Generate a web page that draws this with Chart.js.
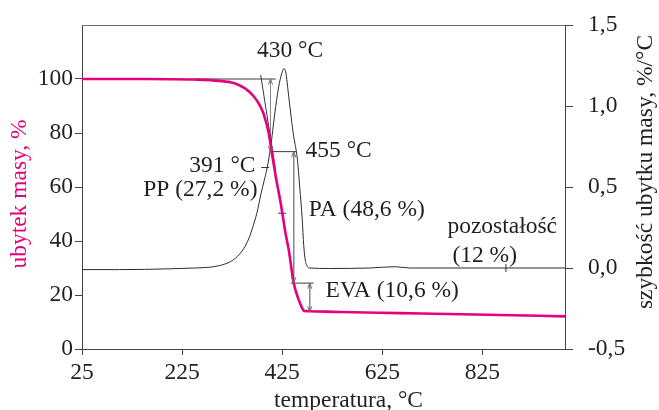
<!DOCTYPE html>
<html>
<head>
<meta charset="utf-8">
<script src="https://cdn.jsdelivr.net/npm/chart.js@4.4.1/dist/chart.umd.min.js"></script>
<style>
  html, body { margin: 0; padding: 0; background: #fff; }
</style>
</head>
<body>
<canvas id="tgaChart" width="659" height="410"></canvas>
<script>
// axis ticks
const tempTicks = [25, 225, 425, 625, 825];
const massTicks = [0, 20, 40, 60, 80, 100];
const rateTicks = [-0.5, 0, 0.5, 1.0, 1.5];

// TG curve: mass loss, %
const massTemp   = [25, 150, 250, 300, 328, 350, 368, 380, 388, 398, 404, 412, 422, 432, 438, 448, 458, 464, 468, 480, 540, 660, 835, 990];
const massValues = [100, 100, 99.8, 99.3, 98.5, 96.6, 93.6, 90.3, 87, 80, 73, 64, 54, 42.5, 36.8, 24.4, 18.2, 15.5, 14.2, 14.0, 13.7, 13.3, 12.7, 12.1];

// DTG curve: rate of mass loss, %/°C
const rateTemp   = [25, 100, 200, 250, 280, 300, 322, 335, 348, 358, 368, 376, 382, 389, 395, 402, 410, 418, 424, 428, 432, 438, 443, 448, 455, 460, 465, 468, 471, 475, 480, 520, 600, 650, 680, 750, 872, 990];
const rateValues = [-0.01, -0.01, -0.005, 0, 0.005, 0.015, 0.04, 0.07, 0.12, 0.18, 0.27, 0.36, 0.45, 0.54, 0.62, 0.75, 0.95, 1.12, 1.2, 1.23, 1.21, 1.06, 0.93, 0.81, 0.68, 0.5, 0.3, 0.14, 0.05, 0.01, 0, -0.003, 0, 0.008, 0, 0, 0, 0];

// construction lines in (temperature, mass %) units
const guideLines = [
  [[250, 100], [412, 100]],
  [[400, 73.1], [453, 73.1]],
  [[442, 24.4], [488, 24.4]],
  [[382, 101.5], [412, 66]]
];
// double-headed arrows (temperature, mass %)
const arrowLines = [
  [[401.6, 100], [401.6, 73.1]],
  [[448, 73.1], [448, 24.4]],
  [[480, 24.4], [480, 13.7]]
];

// small tick marks on the curves
const rateMarkTemp = [391, 872];
const rateMarkValue = [0.62, 0];
const rateMarkRot = [0, 90];
const massMarkTemp = [425];
const massMarkValue = [50.3];

// annotation texts, baseline position in (temperature, mass %) units
const noteText  = ['430 °C', '455 °C', '391 °C', 'PP (27,2 %)', 'PA (48,6 %)', 'pozostałość', '(12 %)', 'EVA (10,6 %)'];
const noteTemp  = [440.6, 471.6, 371.6, 375.6, 478.2, 864.6, 829.6, 511.6];
const noteMass  = [108.3, 71.2, 65.7, 56.5, 49.1, 43.0, 32.4, 19.2];
const noteAlign = ['center', 'left', 'right', 'right', 'left', 'center', 'center', 'left'];

const PINK = '#e5007e';
const INK = '#231f20';
const FONT_FAMILY = "'Liberation Serif', 'Times New Roman', serif";
const FONT_SIZE = 23.5;

const toPoints = (xs, ys) => xs.map((v, i) => ({ x: v, y: ys[i] }));

const guideSets = guideLines.map(seg => ({
  data: seg.map(p => ({ x: p[0], y: p[1] })),
  yAxisID: 'y',
  borderColor: '#3a3a3a',
  borderWidth: 1,
  pointRadius: 0,
  tension: 0,
  order: 3
}));
const arrowSets = arrowLines.map(seg => ({
  data: seg.map(p => ({ x: p[0], y: p[1] })),
  yAxisID: 'y',
  borderColor: '#8a8a8a',
  borderWidth: 1,
  pointRadius: 0,
  tension: 0,
  order: 3
}));

const annotate = {
  id: 'annotate',
  afterDraw(chart) {
    const { ctx, chartArea: a, scales: { x, y } } = chart;
    ctx.save();

    // top frame line
    ctx.strokeStyle = '#6d6d6d';
    ctx.lineWidth = 1;
    ctx.beginPath();
    ctx.moveTo(a.left, a.top + 0.5);
    ctx.lineTo(a.right, a.top + 0.5);
    ctx.stroke();

    // arrow heads at both ends
    ctx.strokeStyle = '#6a6a6a';
    arrowLines.forEach(seg => {
      const px = seg.map(p => [x.getPixelForValue(p[0]), y.getPixelForValue(p[1])]);
      [[0, 1], [1, 0]].forEach(([i, j]) => {
        const [tx, ty] = px[i];
        const ang = Math.atan2(px[j][1] - ty, px[j][0] - tx);
        ctx.beginPath();
        ctx.moveTo(tx + 6 * Math.cos(ang - 0.35), ty + 6 * Math.sin(ang - 0.35));
        ctx.lineTo(tx, ty);
        ctx.lineTo(tx + 6 * Math.cos(ang + 0.35), ty + 6 * Math.sin(ang + 0.35));
        ctx.stroke();
      });
    });

    // annotation texts
    ctx.font = FONT_SIZE + 'px ' + FONT_FAMILY;
    ctx.fillStyle = INK;
    ctx.textBaseline = 'alphabetic';
    noteText.forEach((t, i) => {
      ctx.textAlign = noteAlign[i];
      ctx.fillText(t, x.getPixelForValue(noteTemp[i]), y.getPixelForValue(noteMass[i]));
    });

    // axis titles
    const midY = (a.top + a.bottom) / 2;
    ctx.textAlign = 'center';
    ctx.fillText('temperatura, °C', (a.left + a.right) / 2 + 25, 406.5);

    ctx.save();
    ctx.translate(26, midY + 7);
    ctx.rotate(-Math.PI / 2);
    ctx.fillStyle = PINK;
    ctx.fillText('ubytek masy, %', 0, 0);
    ctx.restore();

    ctx.save();
    ctx.translate(652, midY - 15);
    ctx.rotate(-Math.PI / 2);
    ctx.fillText('szybkość ubytku masy, %/°C', 0, 0);
    ctx.restore();

    ctx.restore();
  }
};

const tickFont = { family: FONT_FAMILY, size: FONT_SIZE };

// fixed box sizes so the plot area lands where the original one is
const fixBox = (w, h) => s => {
  if (w) s.width = w;
  if (h) s.height = h;
  s.paddingTop = 0;
  s.paddingBottom = 0;
  s.paddingLeft = 0;
  s.paddingRight = 0;
};

new Chart(document.getElementById('tgaChart').getContext('2d'), {
  type: 'line',
  data: {
    datasets: [
      {
        label: 'ubytek masy',
        data: toPoints(massTemp, massValues),
        yAxisID: 'y',
        borderColor: PINK,
        borderWidth: 2.6,
        pointRadius: 0,
        cubicInterpolationMode: 'monotone',
        order: 0
      },
      {
        label: 'szybkość ubytku masy',
        data: toPoints(rateTemp, rateValues),
        yAxisID: 'y1',
        borderColor: '#2b2b2b',
        borderWidth: 1,
        pointRadius: 0,
        cubicInterpolationMode: 'monotone',
        order: 1
      },
      {
        data: toPoints(rateMarkTemp, rateMarkValue),
        yAxisID: 'y1',
        showLine: false,
        pointStyle: 'line',
        pointRadius: 4,
        rotation: rateMarkRot,
        borderColor: '#333',
        borderWidth: 1,
        order: 2
      },
      {
        data: toPoints(massMarkTemp, massMarkValue),
        yAxisID: 'y',
        showLine: false,
        pointStyle: 'line',
        pointRadius: 4,
        borderColor: '#333',
        borderWidth: 1,
        order: 2
      },
      ...guideSets,
      ...arrowSets
    ]
  },
  options: {
    responsive: false,
    animation: false,
    devicePixelRatio: 1,
    layout: { padding: { top: 25, left: 0, right: 0, bottom: 0 } },
    plugins: { legend: { display: false }, tooltip: { enabled: false } },
    scales: {
      x: {
        type: 'linear',
        position: 'bottom',
        min: 25,
        max: 990,
        afterBuildTicks: s => { s.ticks = tempTicks.map(v => ({ value: v })); },
        afterFit: fixBox(0, 61),
        ticks: { font: tickFont, color: INK, padding: 4, maxRotation: 0 },
        grid: { drawOnChartArea: false, tickLength: 6, color: '#444' },
        border: { color: '#444', width: 1 }
      },
      y: {
        position: 'left',
        min: 0,
        max: 120,
        afterBuildTicks: s => { s.ticks = massTicks.map(v => ({ value: v })); },
        afterFit: fixBox(82, 0),
        ticks: { font: tickFont, color: INK, padding: 2 },
        grid: { drawOnChartArea: false, tickLength: 7, color: '#444' },
        border: { color: '#444', width: 1 }
      },
      y1: {
        position: 'right',
        min: -0.5,
        max: 1.5,
        afterBuildTicks: s => { s.ticks = rateTicks.map(v => ({ value: v })); },
        afterFit: fixBox(94, 0),
        ticks: {
          font: tickFont,
          color: INK,
          padding: 15,
          callback: v => v.toFixed(1).replace('.', ',')
        },
        grid: { drawOnChartArea: false, tickLength: 8, color: '#444' },
        border: { color: '#444', width: 1 }
      }
    }
  },
  plugins: [annotate]
});
</script>
</body>
</html>
